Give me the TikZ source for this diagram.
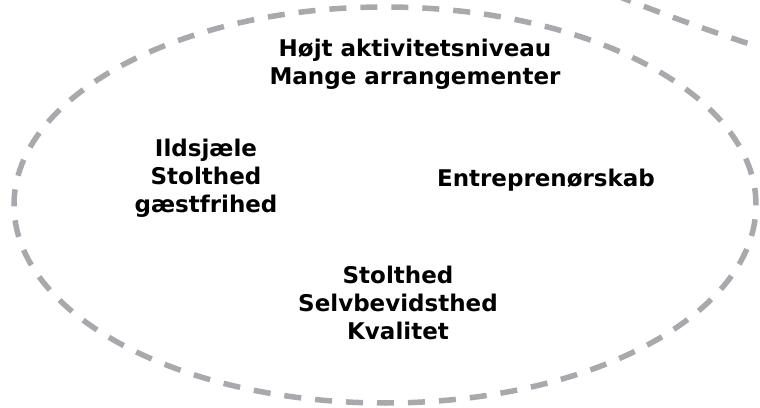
\documentclass[tikz,border=0pt]{standalone}
\usepackage{fontspec}
\setmainfont{DejaVu Sans}
\definecolor{dashgray}{HTML}{A7A9AC}
\tikzset{
  ring/.style={draw=dashgray, line width=5.5pt, dash pattern=on 17pt off 14pt},
  lbl/.style={font=\bfseries\fontsize{23}{28}\selectfont, align=center, text=black, inner sep=0pt}
}
\begin{document}
\begin{tikzpicture}[x=1pt,y=1pt]
\useasboundingbox (0,0) rectangle (760,407);
\begin{scope}
\clip (0,0) rectangle (760,407);
\draw[ring] (385,202) ellipse [x radius=371, y radius=198];
\draw[ring] (615,412) .. controls (665,392) and (720,372) .. (775,355);
\end{scope}
\node[lbl] (top) at (415,343) {Højt aktivitetsniveau\\Mange arrangementer};
\node[lbl] (left) at (206,229) {Ildsjæle\\Stolthed\\gæstfrihed};
\node[lbl] (right) at (546,227) {Entreprenørskab};
\node[lbl] (bottom) at (398,104) {Stolthed\\Selvbevidsthed\\Kvalitet};
\end{tikzpicture}
\end{document}
